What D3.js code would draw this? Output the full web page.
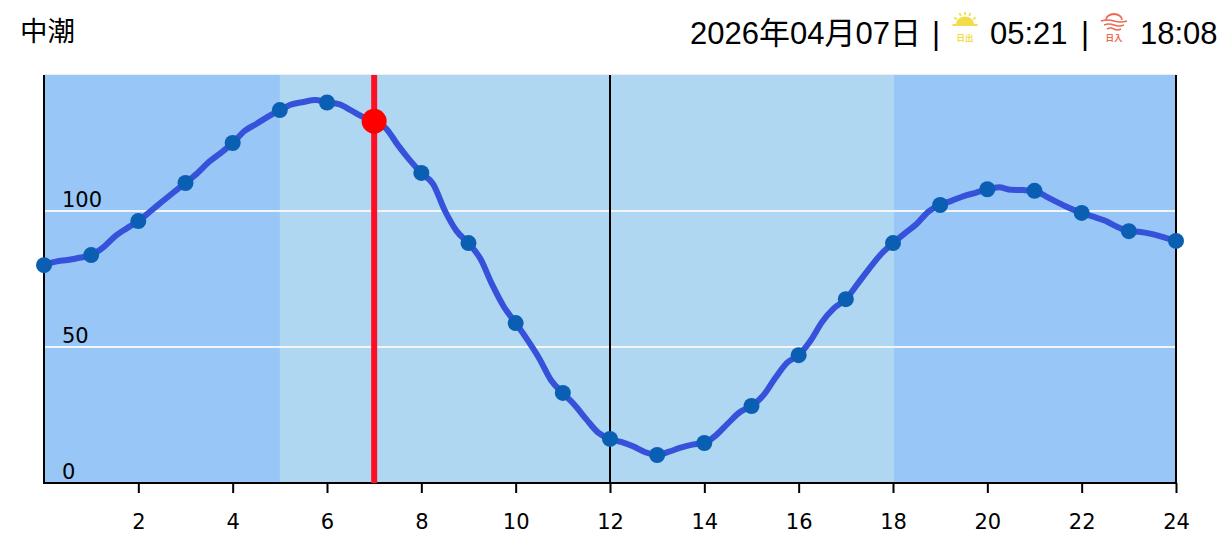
<!DOCTYPE html>
<html>
<head>
<meta charset="utf-8">
<script src="https://cdn.jsdelivr.net/npm/d3@7"></script>
<style>
  html, body { margin: 0; padding: 0; background: #fff; }
  svg { display: block; }
  .head { font-family: "Liberation Sans", "Noto Sans CJK JP", sans-serif; fill: #000; }
  .tick-label { font-family: "DejaVu Sans", sans-serif; font-size: 21px; fill: #000; }
</style>
</head>
<body>
<svg id="chart"></svg>
<script>
const width = 1229;
const height = 544;

const tideName = '中潮';
const dateLabel = '2026年04月07日';
const sunrise = '05:21';
const sunset = '18:08';
const riseLabel = '日出';
const setLabel = '日入';

const hours = [0,1,2,3,4,5,6,7,8,9,10,11,12,13,14,15,16,17,18,19,20,21,22,23,24];
const tide = [80.1,83.8,96.3,110.3,125,137.1,139.9,133,114,88.2,58.8,33.1,16.2,10.3,14.7,28.3,47,67.6,88.2,102.2,108,107.4,99.3,92.6,89];
// quarter hour readings for the line, one row per hour
const lineTide = [
  80.1,81.4,82,82.8,
  83.8,86.5,90.6,93.6,
  96.3,99.8,103.4,106.9,
  110.3,113.9,118.1,121.4,
  125,129.4,132,134.7,
  137.1,139.2,140.1,140.8,
  139.9,139.3,137.1,134.7,
  133,130.4,124.3,118.8,
  114,109.9,100.1,92.6,
  88.2,82.5,73,64.8,
  58.8,52.6,45.8,37.8,
  33.1,28.7,23.4,18.5,
  16.2,15,13.4,11.3,
  10.3,11.5,13,14.1,
  14.7,17.6,21.9,26,
  28.3,32.2,38.5,44.2,
  47,52.3,59.3,64.3,
  67.6,73.2,78.9,84.2,
  88.2,91.8,95.2,99.8,
  102.2,103.8,105.5,106.7,
  108,108.7,107.8,107.7,
  107.4,105.3,103.1,101,
  99.3,97.9,96.4,94.2,
  92.6,92.3,91.5,90.3,
  89
];
const yGrid = [50, 100];
const yLabels = [0, 50, 100];
const xTicks = [2,4,6,8,10,12,14,16,18,20,22,24];
const dayStart = 5;
const dayEnd = 18;
const nowHour = 7;
const markedHours = [12, 24];

const svg = d3.select('#chart').attr('width', width).attr('height', height);

const x = d3.scaleLinear().domain([0, 24]).range([44, 1176]);
const y = d3.scaleLinear().domain([0, 150]).range([483, 75]);

// background bands
svg.append('rect').attr('x', x(0)).attr('y', y(150) - 1).attr('width', x(24) - x(0)).attr('height', 1).attr('fill', '#eeeeee');
svg.append('rect').attr('x', x(0)).attr('y', y(150)).attr('width', x(24) - x(0)).attr('height', y(0) - y(150)).attr('fill', '#98c7f7');
svg.append('rect').attr('x', x(dayStart)).attr('y', y(150)).attr('width', x(dayEnd) - x(dayStart) + 1).attr('height', y(0) - y(150)).attr('fill', '#afd7f1');

svg.selectAll('.grid').data(yGrid).enter().append('line')
  .attr('class', 'grid')
  .attr('x1', x(0)).attr('x2', x(24))
  .attr('y1', d => y(d)).attr('y2', d => y(d))
  .attr('stroke', '#f2f4f6').attr('stroke-width', 2);

svg.selectAll('.mark').data(markedHours).enter().append('line')
  .attr('class', 'mark')
  .attr('x1', d => x(d)).attr('x2', d => x(d))
  .attr('y1', y(150)).attr('y2', y(0))
  .attr('stroke', '#000').attr('stroke-width', 2);

// axes
const xAxis = d3.axisBottom(x).tickValues(xTicks).tickSize(10).tickPadding(21).tickFormat(d => d);
const gx = svg.append('g').attr('transform', `translate(0, ${y(0)})`).call(xAxis);
gx.select('.domain').attr('stroke', '#000').attr('stroke-width', 2).attr('d', `M${x(0) - 1},0H${x(24) + 1}`);
gx.selectAll('.tick line').attr('stroke', '#000').attr('stroke-width', 2);
gx.selectAll('.tick text').attr('class', 'tick-label');
gx.attr('font-family', null).attr('font-size', null);

svg.append('line').attr('x1', x(0)).attr('x2', x(0)).attr('y1', y(150)).attr('y2', y(0)).attr('stroke', '#000').attr('stroke-width', 2);

svg.selectAll('.y-label').data(yLabels).enter().append('text')
  .attr('class', 'tick-label y-label')
  .attr('x', 62).attr('y', d => y(d) - 4)
  .text(d => d);

// tide line
const line = d3.line().x((d, i) => x(i / 4)).y(d => y(d)).curve(d3.curveMonotoneX);
svg.append('path').datum(lineTide)
  .attr('d', line)
  .attr('fill', 'none').attr('stroke', '#3651da').attr('stroke-width', 6).attr('stroke-linejoin', 'round');

// current time marker
const nowTide = tide[hours.indexOf(nowHour)];
svg.append('line').attr('x1', x(nowHour)).attr('x2', x(nowHour)).attr('y1', y(150)).attr('y2', y(0)).attr('stroke', '#ff0f24').attr('stroke-width', 6);
svg.selectAll('.hour-dot').data(hours.filter(h => h !== nowHour)).enter().append('circle')
  .attr('class', 'hour-dot')
  .attr('cx', d => x(d)).attr('cy', d => y(tide[hours.indexOf(d)]))
  .attr('r', 8).attr('fill', '#0b5fb3');
svg.append('circle').attr('cx', x(nowHour)).attr('cy', y(nowTide)).attr('r', 12.5).attr('fill', '#ff0000');

// header
const headSize = 31;
svg.append('text').attr('class', 'head').attr('x', 20).attr('y', 41).attr('font-size', 27.5).text(tideName);
svg.append('text').attr('class', 'head').attr('x', 690).attr('y', 44).attr('font-size', headSize).text(dateLabel);
svg.append('text').attr('class', 'head').attr('x', 932).attr('y', 44).attr('font-size', headSize).text('|');
svg.append('text').attr('class', 'head').attr('x', 990).attr('y', 44).attr('font-size', headSize).text(sunrise);
svg.append('text').attr('class', 'head').attr('x', 1081).attr('y', 44).attr('font-size', headSize).text('|');
svg.append('text').attr('class', 'head').attr('x', 1140).attr('y', 44).attr('font-size', headSize).text(sunset);

// sunrise icon
const riseIcon = svg.append('g').attr('transform', 'translate(965, 0)');
const yellow = '#f2dc4a';
riseIcon.append('path').attr('d', 'M-9,24A9,7.5 0 0 1 9,24Z').attr('fill', yellow);
riseIcon.append('rect').attr('x', -12.5).attr('y', 24).attr('width', 25).attr('height', 2).attr('fill', yellow);
riseIcon.selectAll('.ray').data([-55, -25, 0, 25, 55]).enter().append('line')
  .attr('class', 'ray')
  .attr('x1', 0).attr('x2', 0).attr('y1', -10).attr('y2', -13)
  .attr('transform', d => `translate(0, 25) rotate(${d})`)
  .attr('stroke', yellow).attr('stroke-width', 1.8);
riseIcon.append('text').attr('class', 'head').attr('x', 0).attr('y', 41).attr('text-anchor', 'middle').attr('font-size', 8.5).attr('font-weight', 'bold').style('fill', yellow).text(riseLabel);

// sunset icon
const setIcon = svg.append('g').attr('transform', 'translate(1114, 0)');
const coral = '#ee6a55';
setIcon.append('path').attr('d', 'M-8,20A8,6 0 0 1 8,20').attr('fill', 'none').attr('stroke', coral).attr('stroke-width', 1.8);
setIcon.selectAll('.wave').data([21, 25, 29]).enter().append('path')
  .attr('class', 'wave')
  .attr('d', (d, i) => { const w = 13 - i * 3; return `M${-w},${d}Q${-w / 2},${d - 2} 0,${d}T${w},${d}`; })
  .attr('fill', 'none').attr('stroke', coral).attr('stroke-width', 1.6);
setIcon.append('text').attr('class', 'head').attr('x', 0).attr('y', 41).attr('text-anchor', 'middle').attr('font-size', 8.5).attr('font-weight', 'bold').style('fill', coral).text(setLabel);
</script>
</body>
</html>
